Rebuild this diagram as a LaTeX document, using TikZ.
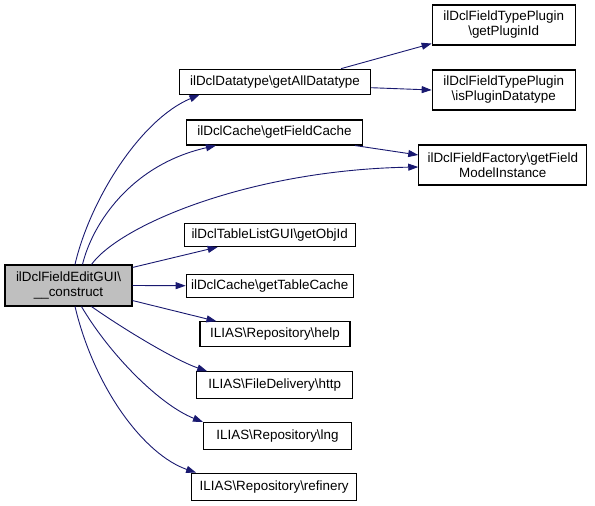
\documentclass[tikz,border=0pt]{standalone}
\usepackage{fontspec}
\setmainfont{Liberation Sans}
\usetikzlibrary{arrows.meta}
\definecolor{edgeblue}{HTML}{191970}
\definecolor{mainfill}{HTML}{BFBFBF}
\begin{document}
\begin{tikzpicture}[x=1pt,y=-1pt,
  box/.style={draw=black,line width=1.1pt,fill=white,inner sep=0pt,align=center,
    font=\fontsize{13.4}{15}\selectfont},
  edge/.style={draw=edgeblue,line width=0.9pt,-{Stealth[inset=0pt,length=10pt,width=7pt]}}]
\useasboundingbox (0,0) rectangle (595,506);
\node[box,fill=mainfill,minimum width=127pt,minimum height=41pt] (main) at (68.5,285.5) {ilDclFieldEditGUI\textbackslash\\\_\_construct};
\node[box,minimum width=191pt,minimum height=25pt] (gad) at (275,81.7) {ilDclDatatype\textbackslash getAllDatatype};
\node[box,minimum width=176pt,minimum height=25pt] (gfc) at (274.5,132.5) {ilDclCache\textbackslash getFieldCache};
\node[box,minimum width=143pt,minimum height=40pt] (gpi) at (503.7,25) {ilDclFieldTypePlugin\\\textbackslash getPluginId};
\node[box,minimum width=143pt,minimum height=40pt] (ipd) at (503.7,90) {ilDclFieldTypePlugin\\\textbackslash isPluginDatatype};
\node[box,minimum width=168pt,minimum height=40pt] (gfmi) at (502.8,165) {ilDclFieldFactory\textbackslash getField\\ModelInstance};
\node[box,minimum width=171pt,minimum height=23pt] (goi) at (269.7,235) {ilDclTableListGUI\textbackslash getObjId};
\node[box,minimum width=167pt,minimum height=23pt] (gtc) at (269.7,285.7) {ilDclCache\textbackslash getTableCache};
\node[box,minimum width=150pt,minimum height=25pt] (help) at (275,334.3) {ILIAS\textbackslash Repository\textbackslash help};
\node[box,minimum width=156pt,minimum height=27pt] (http) at (274.7,385.3) {ILIAS\textbackslash FileDelivery\textbackslash http};
\node[box,minimum width=148pt,minimum height=27pt] (lng) at (277.5,436) {ILIAS\textbackslash Repository\textbackslash lng};
\node[box,minimum width=165pt,minimum height=27pt] (ref) at (274.2,486.7) {ILIAS\textbackslash Repository\textbackslash refinery};
% edges from main
\draw[edge] ([xshift=6.5pt]main.north) .. controls (90,200) and (140,120) .. ([xshift=20.5pt]gad.south west);
\draw[edge] ([xshift=14pt]main.north) .. controls (92,225) and (130,165) .. ([xshift=30pt]gfc.south west);
\draw[edge] ([xshift=23pt]main.north) .. controls (120,225) and (250,170) .. ([yshift=-2pt]gfmi.west);
\draw[edge] ([yshift=-3pt]main.north east) -- ([xshift=34pt]goi.south west);
\draw[edge] (main.east) -- (gtc.west);
\draw[edge] ([yshift=6pt]main.south east) -- ([xshift=17pt]help.north west);
\draw[edge] ([xshift=23pt]main.south) .. controls (125,330) and (175,360) .. ([xshift=11pt]http.north west);
\draw[edge] ([xshift=13pt]main.south) .. controls (110,355) and (160,405) .. (lng.north west);
\draw[edge] ([xshift=6.5pt]main.south) .. controls (95,390) and (145,455) .. ([xshift=5pt]ref.north west);
% other edges
\draw[edge] ([xshift=-30pt]gad.north east) -- ([yshift=2pt]gpi.south west);
\draw[edge] ([yshift=-6pt]gad.east) -- (ipd.west);
\draw[edge] ([xshift=-8pt]gfc.south east) -- ([yshift=10pt]gfmi.west);
\end{tikzpicture}
\end{document}
